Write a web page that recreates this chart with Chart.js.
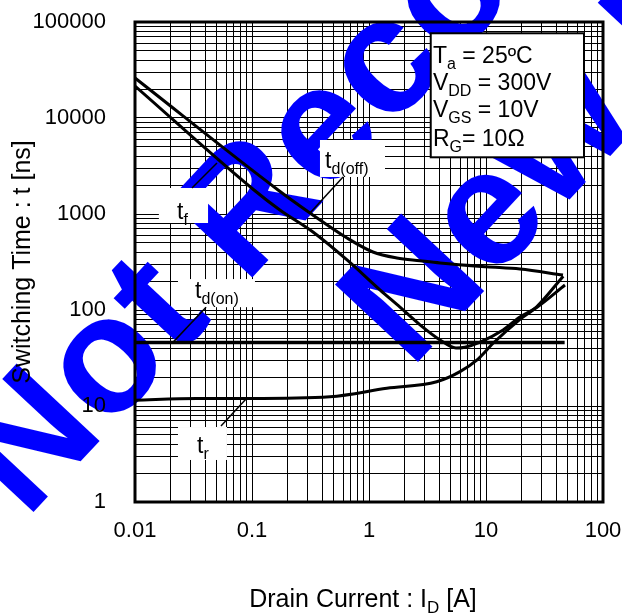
<!DOCTYPE html>
<html>
<head>
<meta charset="utf-8">
<script src="https://cdn.jsdelivr.net/npm/chart.js@4.4.1/dist/chart.umd.min.js"></script>
<style>
  html, body { margin: 0; padding: 0; background: #fff; }
  canvas { display: block; }
</style>
</head>
<body>
<canvas id="sw-chart" width="622" height="614"></canvas>
<script>
(function () {
    'use strict';

    // axis ranges and the decade labels printed on the sheet
    var xMin = 0.01, xMax = 100;
    var yMin = 1, yMax = 100000;
    var xTickLabels = ['0.01', '0.1', '1', '10', '100'];
    var yTickLabels = ['1', '10', '100', '1000', '10000', '100000'];

    // curves: drain current [A] -> switching time [ns]
    var tdOffCurrent = [0.01, 0.167, 0.313, 0.649, 1.08, 1.73, 2.73, 4.05, 10.1, 19.5, 45.5];
    var tdOffTime    = [26100, 1780, 1024, 562, 402, 348, 326, 309, 282, 267, 231];

    var tfCurrent = [0.01, 0.104, 0.173, 0.332, 0.649, 1.24, 1.84, 2.73, 4.05, 5.54, 6.6, 8.9, 14, 19.5, 27.3, 47.3];
    var tfTime    = [21500, 1778, 1101, 649, 332, 162, 107, 70, 48.7, 40.2, 41, 46.4, 62, 84.5, 107, 182];

    var tdOnCurrent = [0.01, 47];
    var tdOnTime    = [46, 46];

    var trCurrent = [0.01, 0.0337, 0.096, 0.464, 1.42, 3.79, 6.0, 8.34, 11.5, 19.5, 27.1, 45.7];
    var trTime    = [11.5, 12, 12, 12.5, 15.3, 17.9, 22.8, 30, 45, 80, 108, 225];

    var conditions = [
        ['T', 'a', ' = 25\u00BAC'],
        ['V', 'DD', ' = 300V'],
        ['V', 'GS', ' = 10V'],
        ['R', 'G', '= 10\u03A9']
    ];

    // curve name tags: box corners, text anchor and leader line, all in data units
    var notes = [
        { main: 't', sub: 'f', box: [0.016, 1866, 0.0421, 806], at: [0.0229, 887], lead: [[0.0307, 1866], [0.0502, 3400]] },
        { main: 't', sub: 'd(off)', box: [0.381, 5900, 1.37, 2430], at: [0.421, 3013], lead: [[0.6, 2430], [0.313, 1024]] },
        { main: 't', sub: 'd(on)', box: [0.0233, 210, 0.106, 107], at: [0.0326, 133], lead: [[0.0405, 107], [0.0211, 46]] },
        { main: 't', sub: 'r', box: [0.0233, 6.04, 0.0611, 2.74], at: [0.0339, 3.24], lead: [[0.0543, 6.19], [0.0889, 11.8]] }
    ];
    var condBox = [3.37, 76300, 68.8, 3896];
    var condLeft = 3.52;
    var condBaselines = [37400, 19580, 10240, 5110];

    var FONT = '"Liberation Sans", Arial, sans-serif';
    var WATERMARK = '#0000ff';

    function pts(xs, ys) {
        return xs.map(function (x, i) { return { x: x, y: ys[i] }; });
    }

    // 1..9 x 10^n grid for a log axis
    function decadeTicks(min, max) {
        var out = [];
        var lo = Math.round(Math.log10(min)), hi = Math.round(Math.log10(max));
        for (var e = lo; e < hi; e++) {
            for (var m = 1; m < 10; m++) {
                out.push({ value: parseFloat((m * Math.pow(10, e)).toPrecision(6)) });
            }
        }
        out.push({ value: max });
        return out;
    }

    function curve(data, width) {
        return {
            data: data,
            borderColor: '#000',
            borderWidth: width,
            pointRadius: 0,
            fill: false,
            cubicInterpolationMode: 'monotone'
        };
    }

    // text with a lowered subscript, returns width
    function subText(ctx, x, y, main, sub, rest, size, subSize, drop, measureOnly) {
        ctx.font = size + 'px ' + FONT;
        var w1 = ctx.measureText(main).width;
        ctx.font = subSize + 'px ' + FONT;
        var w2 = ctx.measureText(sub).width;
        ctx.font = size + 'px ' + FONT;
        var w3 = rest ? ctx.measureText(rest).width : 0;
        if (!measureOnly) {
            ctx.fillText(main, x, y);
            ctx.font = subSize + 'px ' + FONT;
            ctx.fillText(sub, x + w1, y + drop);
            ctx.font = size + 'px ' + FONT;
            if (rest) ctx.fillText(rest, x + w1 + w2, y);
        }
        return w1 + w2 + w3;
    }

    var sheetPlugin = {
        id: 'sheet',
        // watermark sits over the grid but under the curves and labels
        beforeDatasetsDraw: function (chart) {
            var ctx = chart.ctx;
            ctx.save();
            ctx.fillStyle = WATERMARK;
            ctx.font = 'bold 165px ' + FONT;
            ctx.textBaseline = 'alphabetic';
            ctx.translate(26, 520);
            ctx.rotate(-47 * Math.PI / 180);
            ctx.fillText('Not Recommended for', 0, 0);
            ctx.fillText('New Designs', 372, 179);
            ctx.restore();
        },
        afterDatasetsDraw: function (chart) {
            var ctx = chart.ctx;
            var sx = chart.scales.x, sy = chart.scales.y;
            var px = function (v) { return sx.getPixelForValue(v); };
            var py = function (v) { return sy.getPixelForValue(v); };
            ctx.save();
            ctx.textBaseline = 'alphabetic';
            ctx.textAlign = 'left';
            notes.forEach(function (n) {
                var x0 = px(n.box[0]), y0 = py(n.box[1]), x1 = px(n.box[2]), y1 = py(n.box[3]);
                ctx.fillStyle = '#fff';
                ctx.fillRect(x0, y0, x1 - x0, y1 - y0);
                ctx.strokeStyle = '#000';
                ctx.lineWidth = 1.5;
                ctx.beginPath();
                ctx.moveTo(px(n.lead[0][0]), py(n.lead[0][1]));
                ctx.lineTo(px(n.lead[1][0]), py(n.lead[1][1]));
                ctx.stroke();
                ctx.fillStyle = '#000';
                subText(ctx, px(n.at[0]), py(n.at[1]), n.main, n.sub, '', 23, 16, 6);
            });

            var bx0 = px(condBox[0]), by0 = py(condBox[1]), bx1 = px(condBox[2]), by1 = py(condBox[3]);
            ctx.fillStyle = '#fff';
            ctx.fillRect(bx0, by0, bx1 - bx0, by1 - by0);
            ctx.strokeStyle = '#000';
            ctx.lineWidth = 2;
            ctx.strokeRect(bx0, by0, bx1 - bx0, by1 - by0);
            ctx.fillStyle = '#000';
            conditions.forEach(function (c, i) {
                subText(ctx, px(condLeft), py(condBaselines[i]), c[0], c[1], c[2], 23, 16, 6);
            });
            ctx.restore();
        },
        afterDraw: function (chart) {
            var ctx = chart.ctx, a = chart.chartArea;
            ctx.save();
            ctx.strokeStyle = '#000';
            ctx.lineWidth = 3;
            ctx.strokeRect(a.left, a.top, a.right - a.left, a.bottom - a.top);

            ctx.fillStyle = '#000';
            ctx.textBaseline = 'alphabetic';
            ctx.textAlign = 'left';
            // x axis title with subscript
            var w = subText(ctx, 0, 0, 'Drain Current : I', 'D', ' [A]', 25, 17, 6, true);
            subText(ctx, 363 - w / 2, chart.height - 7, 'Drain Current : I', 'D', ' [A]', 25, 17, 6);
            // y axis title (drawn here so it stays above the watermark)
            ctx.translate(30, (a.top + a.bottom) / 2);
            ctx.rotate(-Math.PI / 2);
            ctx.textAlign = 'center';
            ctx.font = '25px ' + FONT;
            ctx.fillText('Switching Time : t [ns]', 0, 0);
            ctx.restore();
        }
    };

    var ctx = document.getElementById('sw-chart');

    new Chart(ctx, {
        type: 'line',
        data: {
            datasets: [
                curve(pts(tdOffCurrent, tdOffTime), 3),
                curve(pts(tfCurrent, tfTime), 3),
                curve(pts(tdOnCurrent, tdOnTime), 3.5),
                curve(pts(trCurrent, trTime), 3)
            ]
        },
        options: {
            responsive: false,
            animation: false,
            devicePixelRatio: 1,
            layout: { padding: { left: 0, right: 19, top: 22, bottom: 0 } },
            plugins: {
                legend: { display: false },
                tooltip: { enabled: false }
            },
            scales: {
                x: {
                    type: 'logarithmic',
                    min: xMin,
                    max: xMax,
                    afterBuildTicks: function (s) { s.ticks = decadeTicks(xMin, xMax); },
                    afterFit: function (s) {
                        s.height = 112;
                        s.paddingLeft = 0;
                        s.paddingRight = 0;
                    },
                    grid: { color: '#000', lineWidth: 1, drawTicks: false },
                    border: { display: false },
                    ticks: {
                        autoSkip: false,
                        maxRotation: 0,
                        padding: 16,
                        color: '#000',
                        z: 1,
                        font: { family: FONT, size: 22 },
                        callback: function (v, i) { return i % 9 === 0 ? xTickLabels[i / 9] : ''; }
                    }
                },
                y: {
                    type: 'logarithmic',
                    min: yMin,
                    max: yMax,
                    afterBuildTicks: function (s) { s.ticks = decadeTicks(yMin, yMax); },
                    afterFit: function (s) {
                        s.width = 135;
                        s.paddingTop = 0;
                        s.paddingBottom = 0;
                    },
                    grid: { color: '#000', lineWidth: 1, drawTicks: false },
                    border: { display: false },
                    ticks: {
                        autoSkip: false,
                        padding: 29,
                        color: '#000',
                        z: 1,
                        font: { family: FONT, size: 22 },
                        callback: function (v, i) { return i % 9 === 0 ? yTickLabels[i / 9] : ''; }
                    }
                }
            }
        },
        plugins: [sheetPlugin]
    });
})();
</script>
</body>
</html>
